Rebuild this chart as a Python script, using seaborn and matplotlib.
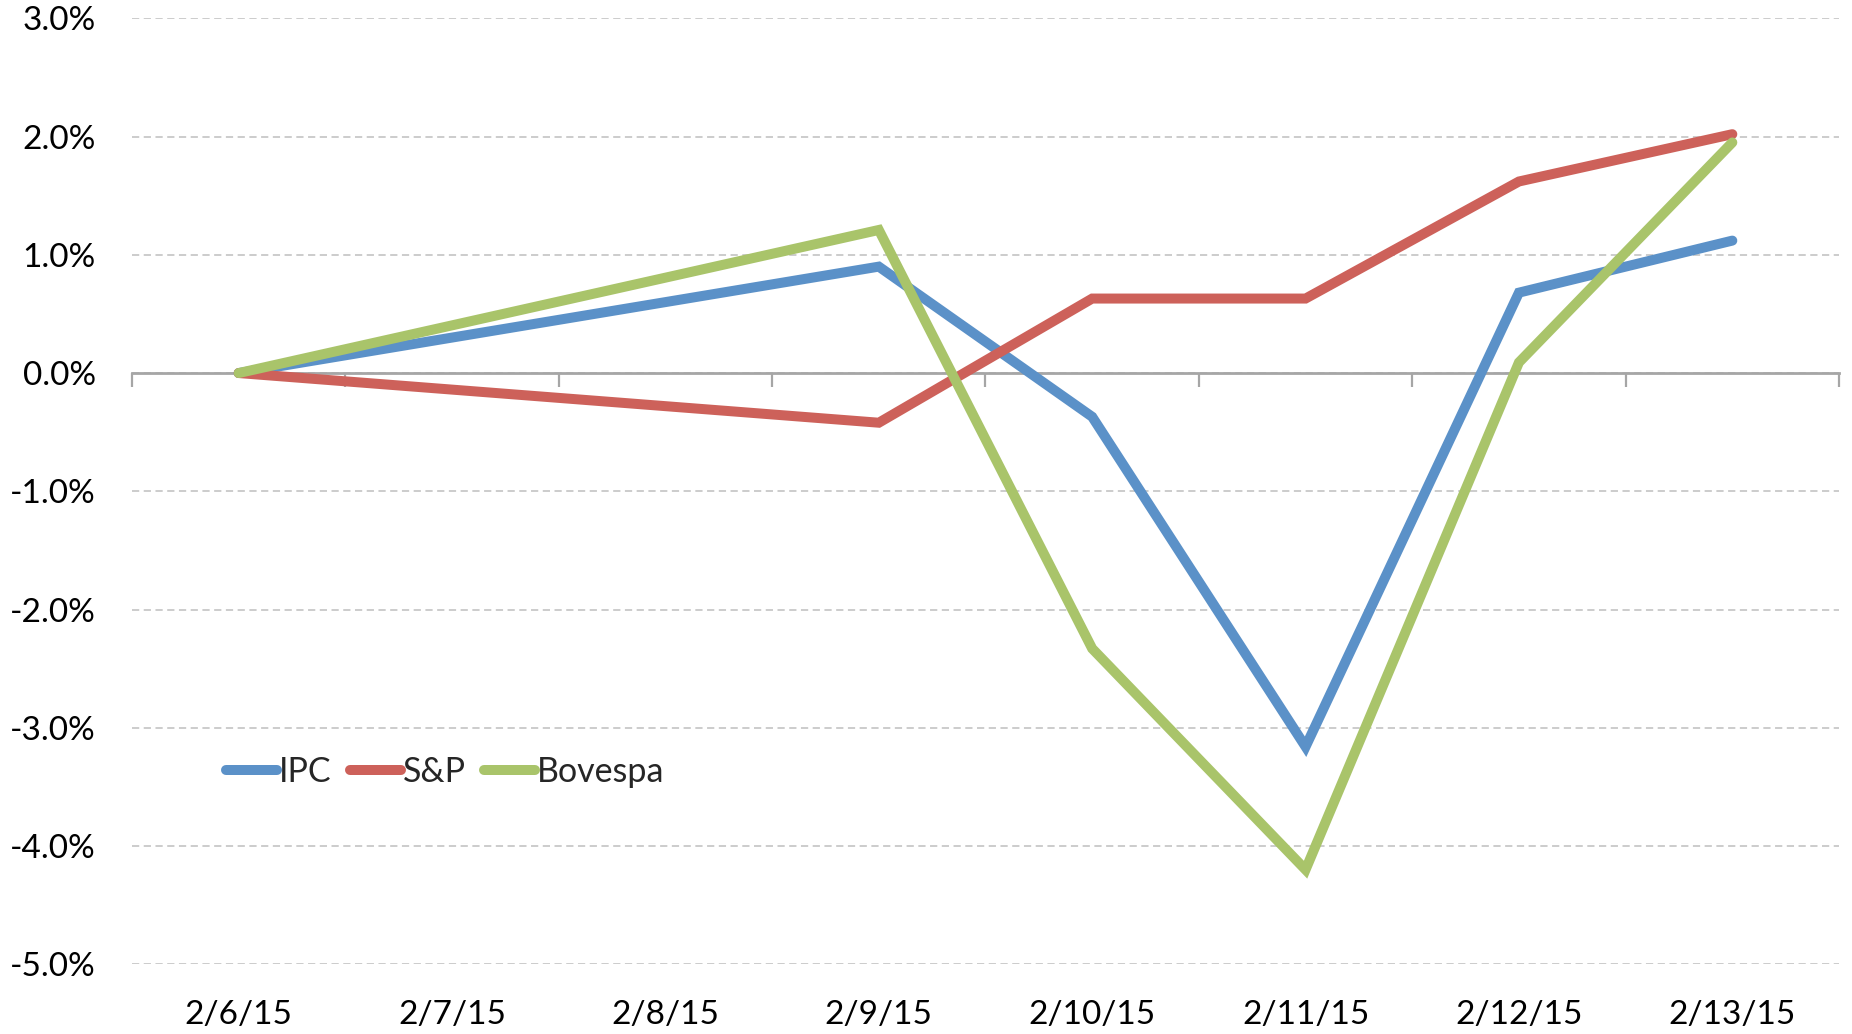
import pandas as pd
import numpy as np
import matplotlib
matplotlib.use("Agg")
import matplotlib.pyplot as plt
import seaborn as sns

# --- data (daily % change vs 2/6/15) ---
ALL_DATES = ["2015-02-06", "2015-02-07", "2015-02-08", "2015-02-09",
             "2015-02-10", "2015-02-11", "2015-02-12", "2015-02-13"]
TRADE_DATES = ["2015-02-06", "2015-02-09", "2015-02-10",
               "2015-02-11", "2015-02-12", "2015-02-13"]
ipc = [0.0, 0.90, -0.37, -3.16, 0.68, 1.12]
sp = [0.0, -0.42, 0.63, 0.63, 1.62, 2.02]
bovespa = [0.0, 1.21, -2.33, -4.20, 0.09, 1.95]
SERIES = ["IPC", "S&P", "Bovespa"]
COLORS = {"IPC": "#5B91C8", "S&P": "#CD615A", "Bovespa": "#A9C46A"}
Y_TICKS = [3, 2, 1, 0, -1, -2, -3, -4, -5]

start = pd.Timestamp(ALL_DATES[0])
all_dates = pd.to_datetime(ALL_DATES)
trade = pd.to_datetime(TRADE_DATES)
df = pd.DataFrame({"day": (trade - start).days, "IPC": ipc, "S&P": sp, "Bovespa": bovespa})
long = df.melt(id_vars="day", var_name="index", value_name="pct")
day_pos = (all_dates - start).days.values

sns.set_style("white")
plt.rcParams["font.family"] = ["Lato", "DejaVu Sans"]

fig = plt.figure(figsize=(18.52, 10.34), dpi=100)
ax = fig.add_axes([132 / 1852, 1 - 964.3 / 1034, 1707 / 1852, 946 / 1034])

sns.lineplot(data=long, x="day", y="pct", hue="index", hue_order=SERIES,
             palette=COLORS, linewidth=7.2, ax=ax, legend=False,
             solid_capstyle="round", solid_joinstyle="miter")

ax.set_xlim(day_pos[0] - 0.5, day_pos[-1] + 0.5)
ax.set_ylim(-5, 3)
ax.set_yticks(Y_TICKS)
ax.set_yticklabels([f"{v:.1f}%" for v in Y_TICKS])
ax.grid(axis="y", color="#c8c8c8", linestyle=(0, (4, 2.5)), linewidth=1.3)
ax.set_axisbelow(True)
for s in ax.spines.values():
    s.set_visible(False)
ax.tick_params(axis="y", length=0, pad=26, labelsize=24, labelcolor="black")

ax.set_xticks(day_pos)
ax.set_xticklabels([f"{d.month}/{d.day}/{d.strftime('%y')}" for d in all_dates])
ax.tick_params(axis="x", length=0, pad=26, labelsize=24, labelcolor="black")
ax.set_xlabel(""); ax.set_ylabel("")

# axis line at 0% with category boundary ticks pointing down
sec = ax.secondary_xaxis(5 / 8)
sec.set_xticks(np.append(day_pos - 0.5, day_pos[-1] + 0.5))
sec.set_xticklabels([])
sec.xaxis.set_ticks_position("bottom")
sec.tick_params(axis="x", direction="out", length=10, width=1.6, color="#a6a6a6")
for side in ["top", "bottom"]:
    sec.spines[side].set_color("#a6a6a6")
    sec.spines[side].set_linewidth(2)
sec.set_zorder(1.5)

handles = [plt.Line2D([], [], color=COLORS[s], linewidth=7.2, solid_capstyle="round") for s in SERIES]
ax.legend(handles, SERIES, loc="center left", bbox_to_anchor=(0.045, 0.203),
          frameon=False, fontsize=24.5, handlelength=1.5, handletextpad=0.05,
          columnspacing=0.55, ncol=3, borderpad=0)

plt.savefig("out.png", dpi=100)
plt.close()
